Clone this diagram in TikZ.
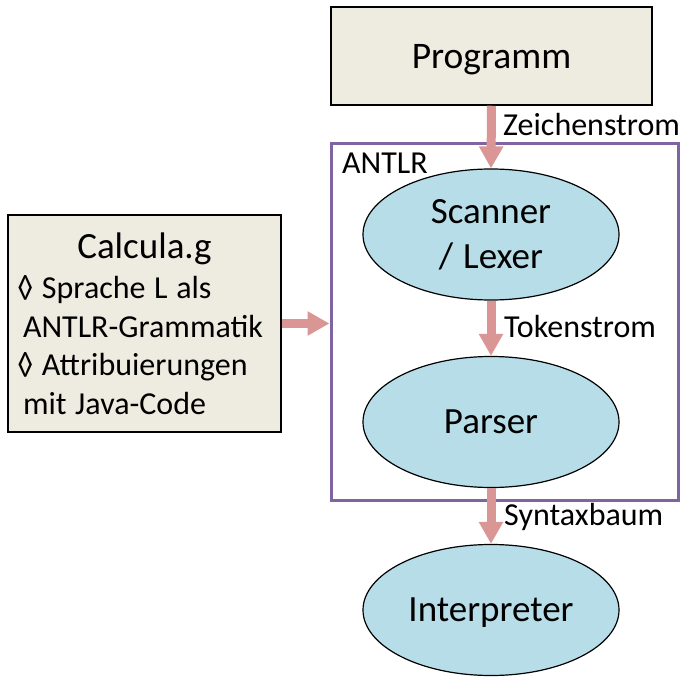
\documentclass[tikz,border=0pt]{standalone}
\usepackage{fontspec}
\setmainfont{Carlito}
\usetikzlibrary{shapes.geometric,arrows.meta}
\definecolor{beigebox}{HTML}{EEECE1}
\definecolor{bluefill}{HTML}{B7DEE8}
\definecolor{arrowred}{HTML}{D99694}
\definecolor{purpleframe}{HTML}{8064A2}
\newcommand{\wsp}{\hspace{0.27em}}
\tikzset{
  boxstyle/.style={draw=black, line width=1.5pt, fill=beigebox, inner sep=0pt},
  ellstyle/.style={ellipse, draw=black, line width=1.2pt, fill=bluefill, minimum width=256pt, minimum height=131pt, inner sep=0pt, align=center, font=\fontsize{37}{45}\selectfont},
  bigarrow/.style={draw=arrowred, line width=9pt, -{Triangle[width=23pt,length=22pt,fill=arrowred]}},
  lbl/.style={anchor=base west, inner sep=0pt, font=\fontsize{32}{36}\selectfont}
}
\begin{document}
\begin{tikzpicture}[x=1pt,y=-1pt]
\useasboundingbox (0,0) rectangle (680,677);
% ANTLR frame
\node[draw=purpleframe, line width=3pt, minimum width=347pt, minimum height=357pt, inner sep=0pt] (antlr) at (504.5,321.5) {};
\node[lbl] (antlrlbl) at (342,173) {ANTLR};
% Programm
\node[boxstyle, minimum width=321pt, minimum height=98pt, text depth=0pt, font=\fontsize{37.5}{45}\selectfont] (prog) at (491.5,56) {Programm};
% Ellipses
\node[ellstyle] (scan) at (491,234.5) {Scanner\\[0pt]/\wsp Lexer};
\node[ellstyle, text depth=0pt] (pars) at (491,422) {Parser};
\node[ellstyle, text depth=0pt] (interp) at (491,610) {Interpreter};
% Calcula box
\node[boxstyle, minimum width=273pt, minimum height=217pt, text width=255pt, align=left] (calc) at (144.5,323.5) {%
  {\centering\fontsize{37}{45}\selectfont Calcula.g\par}%
  \vspace{2pt}%
  {\fontsize{32}{38.5}\selectfont ◊\wsp Sprache\wsp L\wsp als\\
  \hspace*{6pt}ANTLR-Grammatik\\
  ◊\wsp Attribuierungen\\
  \hspace*{6pt}mit\wsp Java-Code\par}\vspace{-4pt}};
% arrows
\draw[bigarrow] (prog.south) -- (scan.north);
\draw[bigarrow] (scan.south) -- (pars.north);
\draw[bigarrow] (pars.south) -- (interp.north);
\draw[bigarrow] (calc.east) -- (calc.east -| antlr.west);
% labels
\node[lbl] (zs) at (503,135) {Zeichenstrom};
\node[lbl] (ts) at (504,337) {Tokenstrom};
\node[lbl] (sb) at (504,525) {Syntaxbaum};
\end{tikzpicture}
\end{document}
